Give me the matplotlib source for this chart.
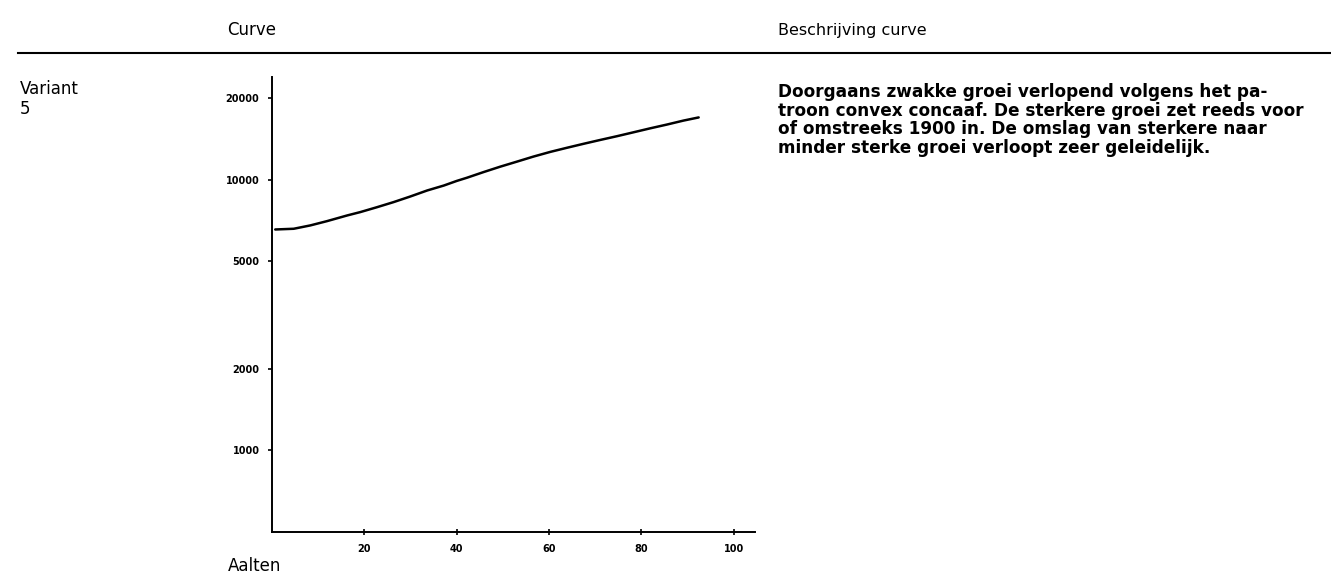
import numpy as np
import matplotlib
matplotlib.use("Agg")
import matplotlib.pyplot as plt
from matplotlib.ticker import FixedLocator, NullLocator

# groeicurve Aalten, variant 5 (logaritmische schaal)
jaren = [0.7, 4.7, 8.3, 11.9, 16.3, 19.1, 22.7, 26.3, 29.9, 33.6, 37.2, 40.0, 42.2, 45.8,
         49.4, 53.1, 56.6, 60.3, 63.9, 67.5, 71.1, 74.7, 78.3, 81.9, 85.5, 89.1, 92.4]
inwoners = [6540, 6580, 6770, 7020, 7370, 7580, 7900, 8250, 8650, 9110, 9500, 9880, 10150, 10650,
            11150, 11650, 12150, 12650, 13100, 13550, 14000, 14450, 14940, 15450, 15950, 16500, 16950]

y_ticks = [1000, 2000, 5000, 10000, 20000]
x_ticks = [20, 40, 60, 80, 100]

kop_curve = "Curve"
kop_beschrijving = "Beschrijving curve"
variant = "Variant\n5"
plaats = "Aalten"
beschrijving = ("Doorgaans zwakke groei verlopend volgens het pa-\n"
                "troon convex concaaf. De sterkere groei zet reeds voor\n"
                "of omstreeks 1900 in. De omslag van sterkere naar\n"
                "minder sterke groei verloopt zeer geleidelijk.")

W, H = 1331, 579
fig = plt.figure(figsize=(W / 100, H / 100), dpi=100)
fig.patch.set_facecolor("white")

ax = fig.add_axes([272 / W, 1 - 532 / H, (755 - 272) / W, (532 - 77) / H])
ax.plot(jaren, inwoners, color="black", lw=1.8, solid_capstyle="round")
ax.set_yscale("log")
ax.set_ylim(500, 23900)
ax.set_xlim(0, 104.6)

ax.yaxis.set_major_locator(FixedLocator(y_ticks))
ax.yaxis.set_minor_locator(NullLocator())
ax.set_yticklabels([str(v) for v in y_ticks])
ax.xaxis.set_major_locator(FixedLocator(x_ticks))
ax.set_xticklabels([str(v) for v in x_ticks])

for side in ("top", "right"):
    ax.spines[side].set_visible(False)
for side in ("left", "bottom"):
    ax.spines[side].set_linewidth(1.4)

ax.tick_params(axis="y", direction="out", length=3, width=1.2, labelsize=7, pad=6)
ax.tick_params(axis="x", direction="inout", length=4, width=1.2, labelsize=7, pad=7)
for lbl in ax.get_xticklabels() + ax.get_yticklabels():
    lbl.set_fontweight("bold")

# koppen, scheidingslijn en teksten
fig.text(227 / W, 1 - 30 / H, kop_curve, fontsize=12, va="center", ha="left")
fig.text(778 / W, 1 - 30 / H, kop_beschrijving, fontsize=11.5, va="center", ha="left")
fig.add_artist(plt.Line2D([18 / W, 1.0], [1 - 53 / H, 1 - 53 / H], color="black", lw=1.5))
fig.text(20 / W, 1 - 80 / H, variant, fontsize=12, va="top", ha="left", linespacing=1.15)
fig.text(228 / W, 1 - 566 / H, plaats, fontsize=12, va="center", ha="left")
fig.text(778 / W, 1 - 83 / H, beschrijving, fontsize=12.2, va="top", ha="left",
         linespacing=1.05, fontweight="semibold")

fig.savefig("out.png", dpi=100)
